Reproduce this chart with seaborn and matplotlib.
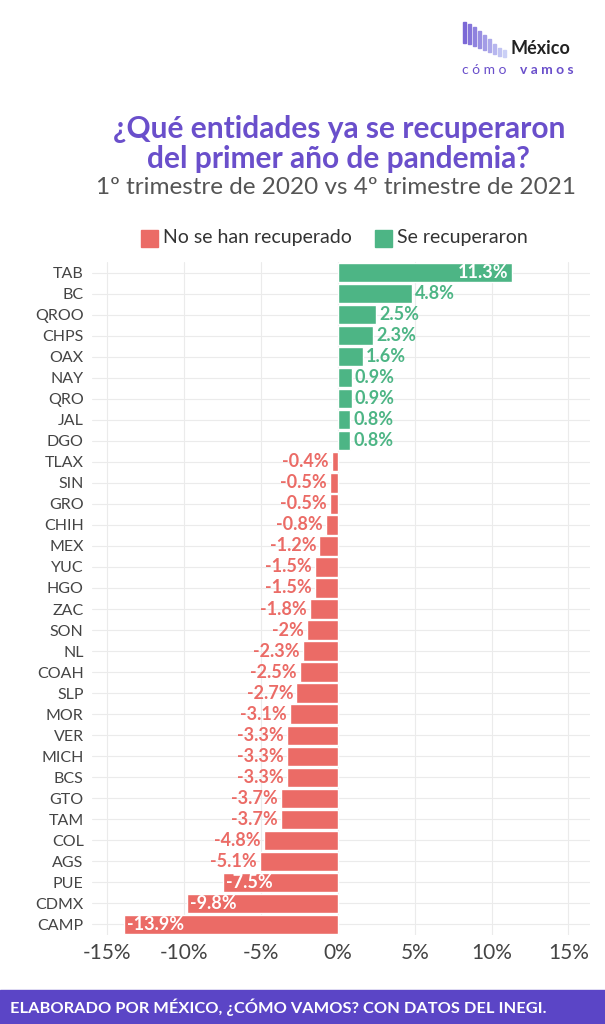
import matplotlib
matplotlib.use("Agg")
import matplotlib.pyplot as plt
import seaborn as sns
import pandas as pd

states = ["TAB", "BC", "QROO", "CHPS", "OAX", "NAY", "QRO", "JAL", "DGO", "TLAX",
          "SIN", "GRO", "CHIH", "MEX", "YUC", "HGO", "ZAC", "SON", "NL", "COAH",
          "SLP", "MOR", "VER", "MICH", "BCS", "GTO", "TAM", "COL", "AGS", "PUE",
          "CDMX", "CAMP"]
values = [11.3, 4.8, 2.5, 2.3, 1.6, 0.9, 0.9, 0.8, 0.8, -0.4,
          -0.5, -0.5, -0.8, -1.2, -1.5, -1.5, -1.8, -2, -2.3, -2.5,
          -2.7, -3.1, -3.3, -3.3, -3.3, -3.7, -3.7, -4.8, -5.1, -7.5,
          -9.8, -13.9]
xticks = [-15, -10, -5, 0, 5, 10, 15]

RED = "#EB6B66"
GREEN = "#4DB585"
PURPLE = "#6A4FCB"

df = pd.DataFrame({"estado": states, "valor": values})
df["grupo"] = ["Se recuperaron" if v > 0 else "No se han recuperado" for v in values]

sns.set_style("whitegrid")
plt.rcParams["font.family"] = ["Lato", "DejaVu Sans"]

fig = plt.figure(figsize=(6.05, 10.24), dpi=100)
ax = fig.add_axes([92 / 605, 1 - 935 / 1024, 498 / 605, 673 / 1024])

sns.barplot(data=df, x="valor", y="estado", hue="grupo",
            palette={"Se recuperaron": GREEN, "No se han recuperado": RED},
            dodge=False, width=0.92, ax=ax, legend=False, saturation=1)

for i, v in enumerate(values):
    txt = f"{v:g}%"
    if abs(v) > 7:
        ha = "right" if v > 0 else "left"
        off = -0.2 if v > 0 else 0.2
        ax.text(v + off, i, txt, ha=ha, va="center", color="white",
                fontsize=13, fontweight="bold")
    else:
        ha = "left" if v > 0 else "right"
        off = 0.2 if v > 0 else -0.2
        ax.text(v + off, i, txt, ha=ha, va="center",
                color=GREEN if v > 0 else RED, fontsize=13, fontweight="bold")

ax.set_xlim(-16.0, 16.4)
ax.set_ylim(len(states) - 0.5, -0.5)
ax.set_xticks(xticks)
ax.set_xticklabels([f"{t}%" for t in xticks], fontsize=15, color="#444444")
ax.tick_params(axis="y", labelsize=11.5, colors="#444444", length=0, pad=6)
ax.tick_params(axis="x", length=0, pad=6)
ax.set_xlabel("")
ax.set_ylabel("")
ax.grid(color="#EBEBEB", linewidth=0.8)
for s in ax.spines.values():
    s.set_visible(False)

fig.text(0.56, 1 - 144 / 1024, "¿Qué entidades ya se recuperaron\ndel primer año de pandemia?",
         ha="center", va="center", fontsize=21.5, fontweight="bold", color=PURPLE,
         linespacing=1.05)
fig.text(0.555, 1 - 187 / 1024, "1º trimestre de 2020 vs 4º trimestre de 2021",
         ha="center", va="center", fontsize=17.5, color="#555555")

# legend
fig.patches.append(plt.Rectangle((141 / 605, 1 - 247 / 1024), 17 / 605, 17 / 1024,
                                 transform=fig.transFigure, color=RED))
fig.text(163 / 605, 1 - 238 / 1024, "No se han recuperado", va="center",
         fontsize=14, color="#333333")
fig.patches.append(plt.Rectangle((375 / 605, 1 - 247 / 1024), 17 / 605, 17 / 1024,
                                 transform=fig.transFigure, color=GREEN))
fig.text(397 / 605, 1 - 238 / 1024, "Se recuperaron", va="center",
         fontsize=14, color="#333333")

# logo
logo_tops = [22, 24, 27, 31, 35, 39, 44, 48, 50]
logo_cols = ["#7B68D6", "#8575DA", "#8F82DE", "#998FE2", "#A39CE6", "#ADA9EA",
             "#B7B6EE", "#C1C3F2", "#CBD0F6"]
for k, (t, c) in enumerate(zip(logo_tops, logo_cols)):
    fig.patches.append(plt.Rectangle(((463 + 5 * k) / 605, 1 - (t + (56 - t) * 0.5 + 4) / 1024),
                                     3 / 605, (56 - t) * 0.5 / 1024 + 4 / 1024,
                                     transform=fig.transFigure, color=c))
fig.text(510 / 605, 1 - 48 / 1024, "México", ha="left", va="center",
         fontsize=13, fontweight="bold", color="#222222")
fig.text(462 / 605, 1 - 70 / 1024, "c ó m o", ha="left", va="center",
         fontsize=10, color="#6A4FCB")
fig.text(520 / 605, 1 - 70 / 1024, "v a m o s", ha="left", va="center",
         fontsize=10, fontweight="bold", color="#6A4FCB")

# footer band
fig.patches.append(plt.Rectangle((0, 0), 1, 34 / 1024, transform=fig.transFigure,
                                 color="#5B45C6"))
fig.text(10 / 605, 17 / 1024, "ELABORADO POR MÉXICO, ¿CÓMO VAMOS? CON DATOS DEL INEGI.",
         va="center", fontsize=11.8, fontweight="bold", color="white")

fig.savefig("out.png", dpi=100)
